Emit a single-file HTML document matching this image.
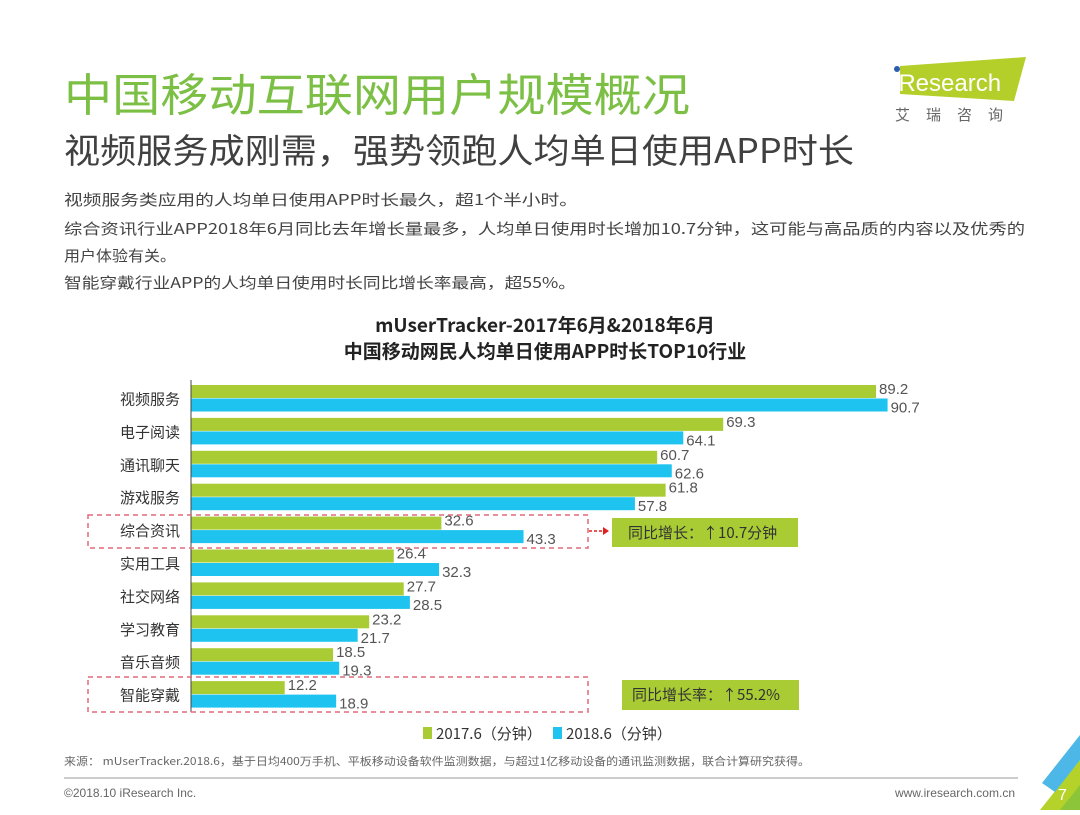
<!DOCTYPE html>
<html><head><meta charset="utf-8"><style>
body{margin:0;width:1080px;height:810px;background:#fff;overflow:hidden;font-family:"Liberation Sans","Noto Sans CJK SC",sans-serif;}
</style></head><body>
<svg width="1080" height="810" viewBox="0 0 1080 810" xmlns="http://www.w3.org/2000/svg" font-family="Liberation Sans, Noto Sans CJK SC, sans-serif">
<text x="64" y="111" font-size="45" fill="#7cbf45" font-family="Noto Sans CJK SC, sans-serif" textLength="626" lengthAdjust="spacingAndGlyphs">中国移动互联网用户规模概况</text>
<text x="64" y="163" font-size="34" fill="#404040" font-family="Noto Sans CJK SC, sans-serif" textLength="790" lengthAdjust="spacingAndGlyphs">视频服务成刚需，强势领跑人均单日使用APP时长</text>
<g>
<polygon points="900,66 1026,57 1014,101 900,94" fill="#b4cf2a"/>
<circle cx="897" cy="69" r="3" fill="#2a5db0"/>
<text x="893" y="91" font-size="24" fill="#fff">iResearch</text>
<text x="895" y="120" font-size="15" fill="#666" letter-spacing="16" font-family="Noto Sans CJK SC, sans-serif">艾瑞咨询</text>
</g>
<g font-size="15" fill="#444" font-family="Noto Sans CJK SC, sans-serif">
<text x="64" y="205" textLength="514" lengthAdjust="spacingAndGlyphs">视频服务类应用的人均单日使用APP时长最久，超1个半小时。</text>
<text x="64" y="234" textLength="961" lengthAdjust="spacingAndGlyphs">综合资讯行业APP2018年6月同比去年增长量最多，人均单日使用时长增加10.7分钟，这可能与高品质的内容以及优秀的</text>
<text x="64" y="261" textLength="112" lengthAdjust="spacingAndGlyphs">用户体验有关。</text>
<text x="64" y="288" textLength="512" lengthAdjust="spacingAndGlyphs">智能穿戴行业APP的人均单日使用时长同比增长率最高，超55%。</text>
</g>
<g font-size="19" font-weight="bold" fill="#222" text-anchor="middle" font-family="Noto Sans CJK SC, sans-serif">
<text x="545" y="332">mUserTracker-2017年6月&amp;2018年6月</text>
<text x="545" y="358">中国移动网民人均单日使用APP时长TOP10行业</text>
</g>
<g id="chart"></g>
<g>
<rect x="88" y="515" width="500" height="33" fill="none" stroke="#e06a7a" stroke-width="1.5" stroke-dasharray="5,4"/>
<line x1="589" y1="531" x2="603" y2="531" stroke="#e02020" stroke-width="1.5" stroke-dasharray="3,2"/>
<polygon points="603,527 609,531 603,535" fill="#e02020"/>
</g>
<g>
<rect x="612" y="518" width="186" height="29" fill="#a9cc34"/>
<text x="628" y="538" font-size="15" fill="#333" font-family="Noto Sans CJK SC, sans-serif">同比增长：↑10.7分钟</text>
</g>
<g>
<rect x="88" y="677" width="500" height="35" fill="none" stroke="#e06a7a" stroke-width="1.5" stroke-dasharray="5,4"/>
</g>
<g>
<rect x="622" y="680" width="177" height="30" fill="#a9cc34"/>
<text x="632" y="700" font-size="15" fill="#333" font-family="Noto Sans CJK SC, sans-serif">同比增长率：↑55.2%</text>
</g>
<g font-size="15" fill="#333" font-family="Noto Sans CJK SC, sans-serif">
<rect x="423" y="727" width="9" height="12" fill="#a9cc34"/>
<text x="436" y="739">2017.6（分钟）</text>
<rect x="553" y="727" width="9" height="12" fill="#1ec4ef"/>
<text x="566" y="739">2018.6（分钟）</text>
</g>
<text x="64" y="765" font-size="11" fill="#666" font-family="Noto Sans CJK SC, sans-serif" textLength="746" lengthAdjust="spacingAndGlyphs">来源： mUserTracker.2018.6，基于日均400万手机、平板移动设备软件监测数据，与超过1亿移动设备的通讯监测数据，联合计算研究获得。</text>
<line x1="64" y1="778" x2="1018" y2="778" stroke="#999" stroke-width="1"/>
<text x="64" y="797" font-size="12" fill="#666">©2018.10 iResearch Inc.</text>
<text x="1015" y="797" font-size="12" fill="#666" text-anchor="end">www.iresearch.com.cn</text>
<g>
<polygon points="1040,810 1080,760 1080,810" fill="#b4d22a"/>
<polygon points="1042,783 1080,735 1080,760 1055,792" fill="#4db8e8"/>
<polygon points="1060,810 1080,785 1080,810" fill="#8cc43a"/>
<text x="1058" y="800" font-size="16" fill="#fff">7</text>
</g>
</svg>
<script>
const categories=["视频服务","电子阅读","通讯聊天","游戏服务","综合资讯","实用工具","社交网络","学习教育","音乐音频","智能穿戴"];
const values2017=[89.2,69.3,60.7,61.8,32.6,26.4,27.7,23.2,18.5,12.2];
const values2018=[90.7,64.1,62.6,57.8,43.3,32.3,28.5,21.7,19.3,18.9];
const seriesColors=["#a9cc34","#1ec4ef"];
const NS="http://www.w3.org/2000/svg";
const g=document.getElementById('chart');


const x0=191, scale=7.68, top0=385, step=32.9, bh=13.5;
const xs=v=>x0+v*scale;
const yRow=i=>top0+i*step;
function mk(tag,attrs){const e=document.createElementNS(NS,tag);for(const k in attrs)e.setAttribute(k,attrs[k]);g.appendChild(e);return e;}
categories.forEach((c,i)=>{
  const y=yRow(i);
  [values2017,values2018].forEach((arr,s)=>{
    const r=mk('rect',{x:x0,y:y+s*bh,width:xs(arr[i])-x0,height:bh-0.5,fill:seriesColors[s]});
    
    
    const t=mk('text',{x:xs(arr[i])+3,y:y+s*bh+(s?14:9),'font-size':15,fill:'#555'});
    t.textContent=arr[i].toFixed(1);
    
    
  });
  const l=mk('text',{x:180,y:y+bh+6,'font-size':15,fill:'#333','text-anchor':'end','font-family':'Noto Sans CJK SC, sans-serif'});
  l.textContent=c;
  
  
});
const ax=mk('line',{x1:x0,y1:380,x2:x0,y2:yRow(categories.length-1)+2*bh+4,stroke:'#444','stroke-width':1});


</script>
</body></html>
